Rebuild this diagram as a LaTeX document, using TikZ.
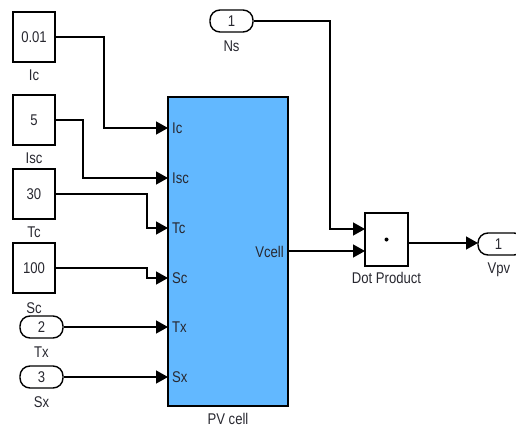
\documentclass[tikz,border=0pt]{standalone}
\usepackage{graphicx}
\usepackage{fontspec}
\setmainfont{Liberation Sans}
\usetikzlibrary{arrows.meta}
\definecolor{pvblue}{RGB}{98,184,255}
\definecolor{txt}{RGB}{40,40,48}
\newcommand{\lbl}[1]{\scalebox{0.97}[1.15]{#1}}
\tikzset{
  every node/.style={font=\fontsize{13.5}{14}\selectfont, text=txt, inner sep=0pt},
  constblk/.style={draw=black, line width=1.4pt, minimum width=42pt, minimum height=50pt, fill=white},
  portblk/.style={draw=black, line width=1.4pt, rounded corners=10pt, minimum width=43pt, minimum height=22pt, fill=white},
  wire/.style={line width=1.4pt, draw=black},
  arr/.style={wire, -{Triangle[length=12pt,width=13pt]}},
}
\begin{document}
\begin{tikzpicture}[x=1pt,y=-1pt]
\useasboundingbox (0,0) rectangle (516,428);
\begin{scope}
\clip (0,0) rectangle (516,428);
% constant blocks
\node[constblk] (cIc) at (34,37) {\lbl{0.01}};
\node (lIc) at (34,75) {\lbl{Ic}};
\node[constblk] (cIsc) at (34,120) {\lbl{5}};
\node (lIsc) at (34,158) {\lbl{Isc}};
\node[constblk] (cTc) at (34,194) {\lbl{30}};
\node (lTc) at (34,232) {\lbl{Tc}};
\node[constblk] (cSc) at (34,268) {\lbl{100}};
\node (lSc) at (34,308) {\lbl{Sc}};
% inports
\node[portblk] (iTx) at (41.5,327) {\lbl{2}};
\node (lTx) at (41.5,352) {\lbl{Tx}};
\node[portblk] (iSx) at (41.5,377) {\lbl{3}};
\node (lSx) at (41.5,402) {\lbl{Sx}};
\node[portblk] (iNs) at (231.5,21) {\lbl{1}};
\node (lNs) at (231.5,46) {\lbl{Ns}};
% PV cell
\node[draw=black, line width=1.4pt, fill=pvblue, minimum width=120pt, minimum height=309pt] (pv) at (228,251.5) {};
\node (lpv) at (228,419) {\lbl{PV cell}};
\coordinate (pIc) at (168,128);
\coordinate (pIsc) at (168,178);
\coordinate (pTc) at (168,228);
\coordinate (pSc) at (168,278);
\coordinate (pTx) at (168,327);
\coordinate (pSx) at (168,377);
\coordinate (pVc) at (288,251);
\node[anchor=west] (tIc) at (172,128) {\lbl{Ic}};
\node[anchor=west] (tIsc) at (172,178) {\lbl{Isc}};
\node[anchor=west] (tTc) at (172,228) {\lbl{Tc}};
\node[anchor=west] (tSc) at (172,278) {\lbl{Sc}};
\node[anchor=west] (tTx) at (172,327) {\lbl{Tx}};
\node[anchor=west] (tSx) at (172,377) {\lbl{Sx}};
\node[anchor=east] (tVc) at (284,252) {\lbl{Vcell}};
% dot product
\node[draw=black, line width=1.4pt, fill=white, minimum width=43pt, minimum height=53pt] (dot) at (386.5,239.5) {};
\fill[black] (dot.center) circle (2pt);
\node (ldot) at (386.5,278) {\lbl{Dot Product}};
\coordinate (dIn1) at (365,229);
\coordinate (dIn2) at (365,251);
\coordinate (dOut) at (408,243);
% outport
\node[portblk, minimum width=46pt] (oVpv) at (501,244) {\lbl{\hspace*{-5pt}1}};
\node (lVpv) at (499,270) {\lbl{Vpv}};
\coordinate (oIn) at (478,243);
% wires
\draw[arr] (cIc.east) -- (104,37) |- (pIc);
\draw[arr] (cIsc.east) -- (83,120) |- (pIsc);
\draw[arr] (cTc.east) -- (147,194) |- (pTc);
\draw[arr] (cSc.east) -- (147,268) |- (pSc);
\draw[arr] (iTx.east) -- (pTx);
\draw[arr] (iSx.east) -- (pSx);
\draw[arr] (iNs.east) -- (330,21) |- (dIn1);
\draw[arr] (pVc) -- (dIn2);
\draw[arr] (dOut) -- (oIn);
\end{scope}
\end{tikzpicture}
\end{document}
